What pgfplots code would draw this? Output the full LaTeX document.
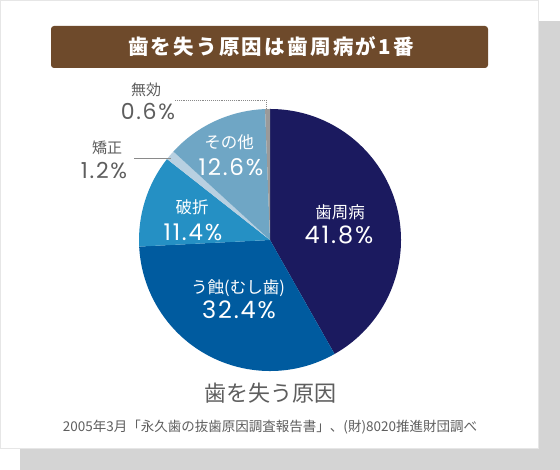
\documentclass[border=0pt]{standalone}
\usepackage{pgfplots}
\pgfplotsset{compat=1.18}
\usepackage{pgfplotstable}
\usepackage{fontspec}
\setmainfont{Noto Sans CJK JP}
\newfontfamily\numfont[LetterSpace=8]{Poppins}
\newfontfamily\titlefont[LetterSpace=11]{Noto Sans CJK JP}

\definecolor{cShadow}{HTML}{D4D4D4}
\definecolor{cBorder}{HTML}{E6E6E6}
\definecolor{cBanner}{HTML}{6E4A2B}
\definecolor{cText}{HTML}{5E5E5E}
\definecolor{cLead}{HTML}{8A8A8A}
\definecolor{cA}{HTML}{1B1A5F}
\definecolor{cB}{HTML}{005B9F}
\definecolor{cC}{HTML}{2590C4}
\definecolor{cD}{HTML}{B8D0E1}
\definecolor{cE}{HTML}{6FA6C5}
\definecolor{cF}{HTML}{9A9A9A}

% share in percent, clockwise from 12 o'clock
\pgfplotstableread{
value col
41.8 cA
32.4 cB
11.4 cC
1.2  cD
12.6 cE
0.6  cF
}\piedata

\newcommand\pct[2]{{\numfont\fontsize{#1}{#1}\selectfont #2{\fontsize{#1*0.7}{#1}\selectfont\%}}}

\begin{document}
\begin{tikzpicture}[x=1bp,y=1bp]
\path[use as bounding box] (0,0) rectangle (560,470);
% card and shadow
\fill[cShadow] (20,0) rectangle (560,449);
\filldraw[fill=white,draw=cBorder,line width=0.8bp] (0.4,469.6) rectangle (538.6,22);
% banner
\fill[cBanner,rounded corners=3bp] (51,444) rectangle (488,402);
\node[text=white,font=\titlefont\bfseries\fontsize{20.5bp}{20.5bp}\selectfont] at (271,423.5) {歯を失う原因は歯周病が1番};

\begin{axis}[
  at={(0,0)}, anchor=origin,
  width=560bp, height=470bp, scale only axis,
  xmin=0, xmax=560, ymin=0, ymax=470,
  hide axis, clip=false]
\pgfplotstablegetrowsof{\piedata}
\pgfmathtruncatemacro\nrows{\pgfplotsretval-1}
\gdef\angA{90}
\pgfplotsforeachungrouped \i in {0,...,\nrows}{
  \pgfplotstablegetelem{\i}{value}\of\piedata \let\v\pgfplotsretval
  \pgfplotstablegetelem{\i}{col}\of\piedata \let\c\pgfplotsretval
  \pgfmathsetmacro\angB{\angA-3.6*\v}
  \edef\slice{\noexpand\fill[\c] (axis cs:270,230) -- ++(\angA:131bp)
    arc[start angle=\angA, end angle=\angB, radius=131bp] -- cycle;}
  \slice
  \global\let\angA\angB
}
% leaders
\draw[cLead,line width=0.9bp,densely dotted] (axis cs:175,370) -- (axis cs:266,370) -- (axis cs:266,361);
\draw[cLead,line width=0.9bp] (axis cs:134,312) -- (axis cs:171,312);
% labels inside
\node[text=white,font=\fontsize{16.5bp}{16.5bp}\selectfont] at (axis cs:340,258) {歯周病};
\node[text=white] at (axis cs:339,235) {\pct{24bp}{41.8}};
\node[text=white,font=\fontsize{16.5bp}{16.5bp}\selectfont] at (axis cs:238,182) {う蝕(むし歯)};
\node[text=white] at (axis cs:239,160) {\pct{24bp}{32.4}};
\node[text=white,font=\fontsize{16.5bp}{16.5bp}\selectfont] at (axis cs:192,263) {破折};
\node[text=white] at (axis cs:193,238) {\pct{23bp}{11.4}};
\node[text=white,font=\fontsize{16.5bp}{16.5bp}\selectfont] at (axis cs:229,328) {その他};
\node[text=white] at (axis cs:231,303) {\pct{23bp}{12.6}};
% labels outside
\node[text=cText,font=\fontsize{15bp}{15bp}\selectfont] at (axis cs:107,322) {矯正};
\node[text=cText] at (axis cs:104,299) {\pct{22bp}{1.2}};
\node[text=cText,font=\fontsize{15bp}{15bp}\selectfont] at (axis cs:146,380) {無効};
\node[text=cText] at (axis cs:148,358) {\pct{22bp}{0.6}};
\end{axis}

\node[text=cText,font=\fontsize{22bp}{22bp}\selectfont] at (270,77) {歯を失う原因};
\node[text=cText,font=\fontsize{13.5bp}{13.5bp}\selectfont] at (270,43) {2005年3月「永久歯の抜歯原因調査報告書」、(財)8020推進財団調べ};
\end{tikzpicture}
\end{document}
